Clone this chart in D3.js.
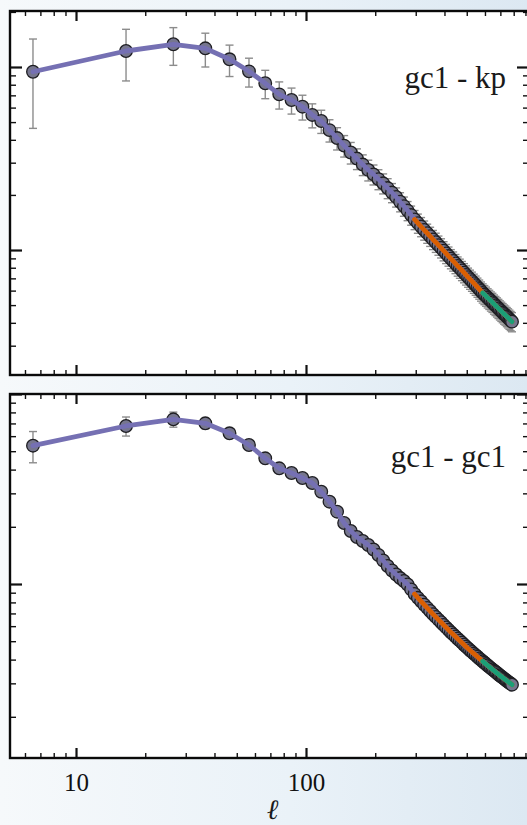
<!DOCTYPE html>
<html><head><meta charset="utf-8">
<script src="https://cdn.jsdelivr.net/npm/d3@7"></script>
<style>
html,body{margin:0;padding:0;width:527px;height:825px;overflow:hidden;
background:linear-gradient(90deg,#f6f9fb 0%,#eaf2f8 55%,#dce8f2 100%);}
svg{display:block}
</style></head><body><svg id="c" width="527" height="825"></svg>
<script>
// multipole bin centres
const ells = [6.5,16.5,26.5,36.5,46.5,56.5,66.5,76.5,86.5,96.5,
 106.5,116.5,126.5,136.5,146.5,156.5,166.5,176.5,186.5,196.5,
 206.5,216.5,226.5,236.5,246.5,256.5,266.5,276.5,286.5,296.5,
 306.5,316.5,326.5,336.5,346.5,356.5,366.5,376.5,386.5,396.5,
 406.5,416.5,426.5,436.5,446.5,456.5,466.5,476.5,486.5,496.5,
 506.5,516.5,526.5,536.5,546.5,556.5,566.5,576.5,586.5,596.5,
 606.5,616.5,626.5,636.5,646.5,656.5,666.5,676.5,686.5,696.5,
 706.5,716.5,726.5,736.5,746.5,756.5,766.5,776.5,786.5];
// gc1 - kp cross spectrum (arbitrary units)
const gcKp = [0.942,1.223,1.331,1.265,1.102,0.947,0.815,0.709,0.660,0.607,
 0.547,0.507,0.452,0.409,0.372,0.341,0.316,0.293,0.274,0.259,
 0.244,0.2315,0.218,0.206,0.195,0.1836,0.1738,0.1643,0.1552,0.1468,
 0.1403,0.1343,0.1286,0.1236,0.1189,0.1142,0.1103,0.1064,0.1028,0.0991,
 0.0958,0.0927,0.0897,0.0871,0.0844,0.0818,0.0796,0.0773,0.0752,0.0731,
 0.0711,0.0693,0.0676,0.0659,0.0643,0.0627,0.0612,0.0597,0.0583,0.0571,
 0.0560,0.0548,0.0538,0.0527,0.0518,0.0507,0.0498,0.0489,0.0480,0.0471,
 0.0463,0.0455,0.0447,0.0441,0.0433,0.0426,0.0419,0.0412,0.0406];
const gcKpErr = [0.48,0.384,0.31,0.265,0.215,0.17,0.144,0.12,0.107,0.094,
 0.082,0.0735,0.063,0.057,0.050,0.046,0.041,0.038,0.0356,0.0324,
 0.0305,0.029,0.0273,0.0247,0.0234,0.022,0.0209,0.0197,0.0186,0.0176,
 0.01684,0.01612,0.01543,0.01483,0.01427,0.0137,0.01324,0.01277,0.01234,0.01189,
 0.0115,0.01112,0.01076,0.01045,0.01013,0.00982,0.00955,0.00928,0.00902,0.00877,
 0.00853,0.00832,0.00811,0.00791,0.00772,0.00752,0.00734,0.00716,0.007,0.00685,
 0.00672,0.00658,0.00646,0.00632,0.00622,0.00608,0.00598,0.00587,0.00576,0.00565,
 0.00556,0.00546,0.00536,0.00529,0.0052,0.00511,0.00503,0.00494,0.00487];
// gc1 - gc1 auto spectrum (arbitrary units)
const gcGc = [5.345,6.786,7.359,7.012,6.212,5.391,4.587,4.063,3.838,3.613,
 3.401,3.060,2.712,2.402,2.095,1.901,1.768,1.684,1.604,1.519,
 1.421,1.330,1.244,1.178,1.122,1.075,1.037,0.994,0.936,0.886,
 0.846,0.811,0.778,0.749,0.721,0.694,0.671,0.649,0.629,0.609,
 0.591,0.574,0.557,0.543,0.529,0.515,0.503,0.491,0.479,0.468,
 0.458,0.448,0.439,0.430,0.422,0.414,0.406,0.3985,0.392,0.385,
 0.379,0.3725,0.366,0.3605,0.355,0.350,0.345,0.340,0.335,0.330,
 0.326,0.3217,0.3174,0.3135,0.3094,0.3057,0.3023,0.2987,0.2951];
const gcGcErr = [1.0,0.78,0.67,0.45,0.32,0.24,0.18,0.14,0.11,0.095,
 0.085,0.075,0.066,0.058,0.05,0.045,0.041,0.038,0.035,0.033,
 0.03,0.028,0.026,0.024,0.023,0.022,0.021,0.02,0.019,0.018,
 0.017,0.016,0.0155,0.015,0.0144,0.0139,0.0134,0.013,0.0126,0.0122,
 0.0118,0.0115,0.0111,0.0109,0.0106,0.0103,0.0101,0.0098,0.0096,0.0094,
 0.0092,0.009,0.0088,0.0086,0.0084,0.0083,0.0081,0.008,0.0078,0.0077,
 0.0076,0.0075,0.0073,0.0072,0.0071,0.007,0.0069,0.0068,0.0067,0.0066,
 0.0065,0.0064,0.0063,0.0063,0.0062,0.0061,0.006,0.006,0.0059];
const panelLabels = ["gc1 - kp", "gc1 - gc1"];
// line segments: ell where each coloured curve starts
const segStarts = [6.5, 296.5, 586.5];
const segColors = ["#7570b3", "#d95f02", "#1b9e77"];
const xDomain = [5.164, 932.4];
const xMajorTicks = [10, 100];
const xMinorTicks = [6,7,8,9,20,30,40,50,60,70,80,90,200,300,400,500,600,700,800,900];
const yDomainTop = [0.02075, 2.023];
const yMajorTop = [0.1, 1];
const yMinorTop = [0.03,0.04,0.05,0.06,0.07,0.08,0.09,0.2,0.3,0.4,0.5,0.6,0.7,0.8,0.9,2];
const yDomainBot = [0.1214, 10];
const yMajorBot = [1, 10];
const yMinorBot = [0.2,0.3,0.4,0.5,0.6,0.7,0.8,0.9,2,3,4,5,6,7,8,9];
const xTitle = "\u2113";

const svg = d3.select("#c");
const L = 10, R = 529;
const x = d3.scaleLog().domain(xDomain).range([L, R]);
const panels = [
  {top: 11, bottom: 375, yd: yDomainTop, maj: yMajorTop, min: yMinorTop, v: gcKp, e: gcKpErr, label: panelLabels[0], ly: 88, xlab: false},
  {top: 394, bottom: 758, yd: yDomainBot, maj: yMajorBot, min: yMinorBot, v: gcGc, e: gcGcErr, label: panelLabels[1], ly: 467, xlab: true}
];
const serif = "'Liberation Serif','Times New Roman','DejaVu Serif',serif";

panels.forEach(p => {
  const y = d3.scaleLog().domain(p.yd).range([p.bottom, p.top]);
  const g = svg.append("g");
  g.append("rect").attr("x", L).attr("y", p.top).attr("width", R - L).attr("height", p.bottom - p.top).attr("fill", "#fff");
  const data = ells.map((l, i) => ({l, v: p.v[i], e: p.e[i]}));
  // error bars
  const eb = g.append("g").attr("stroke", "#8c8c8c").attr("stroke-width", 1.4).attr("fill", "none");
  data.forEach(d => {
    const y1 = y(d.v + d.e), y0 = y(Math.max(d.v - d.e, p.yd[0] * 0.5));
    const cx = x(d.l);
    eb.append("line").attr("x1", cx).attr("x2", cx).attr("y1", y1).attr("y2", y0);
    eb.append("line").attr("x1", cx - 4).attr("x2", cx + 4).attr("y1", y1).attr("y2", y1);
    eb.append("line").attr("x1", cx - 4).attr("x2", cx + 4).attr("y1", y0).attr("y2", y0);
  });
  // points
  g.append("g").selectAll("circle").data(data).join("circle")
    .attr("cx", d => x(d.l)).attr("cy", d => y(d.v)).attr("r", 6.3)
    .attr("fill", "#76768e").attr("stroke", "#1e1e22").attr("stroke-width", 1.3);
  // coloured curves
  const line = d3.line().x(d => x(d.l)).y(d => y(d.v));
  segStarts.forEach((s, k) => {
    g.append("path").datum(data.filter(d => d.l >= s)).attr("d", line)
      .attr("fill", "none").attr("stroke", segColors[k]).attr("stroke-width", 4.8)
      .attr("stroke-linecap", "round").attr("stroke-linejoin", "round");
  });
  // axes (inward ticks on all four sides)
  const mk = (axis, tr, size, vals, fmt) => {
    const a = axis.tickValues(vals).tickSizeInner(size).tickSizeOuter(0).tickFormat(fmt || (() => ""));
    const ag = g.append("g").attr("transform", tr).call(a);
    ag.select(".domain").remove();
    ag.selectAll(".tick line").attr("stroke", "#111");
    return ag;
  };
  const none = () => "";
  const xb = mk(d3.axisBottom(x).tickPadding(15), `translate(0,${p.bottom})`, -10, xMajorTicks, p.xlab ? d3.format("d") : none);
  xb.selectAll(".tick line").attr("stroke-width", 2.2);
  xb.selectAll("text").attr("font-family", serif).attr("font-size", 25).attr("fill", "#111");
  mk(d3.axisBottom(x), `translate(0,${p.bottom})`, -5, xMinorTicks).selectAll(".tick line").attr("stroke-width", 1.4);
  mk(d3.axisTop(x), `translate(0,${p.top})`, -10, xMajorTicks).selectAll(".tick line").attr("stroke-width", 2.2);
  mk(d3.axisTop(x), `translate(0,${p.top})`, -5, xMinorTicks).selectAll(".tick line").attr("stroke-width", 1.4);
  mk(d3.axisLeft(y), `translate(${L},0)`, -12, p.maj).selectAll(".tick line").attr("stroke-width", 2.2);
  mk(d3.axisLeft(y), `translate(${L},0)`, -6, p.min).selectAll(".tick line").attr("stroke-width", 1.4);
  mk(d3.axisRight(y), `translate(${R},0)`, -12, p.maj).selectAll(".tick line").attr("stroke-width", 2.2);
  mk(d3.axisRight(y), `translate(${R},0)`, -6, p.min).selectAll(".tick line").attr("stroke-width", 1.4);
  // frame
  g.append("rect").attr("x", L).attr("y", p.top).attr("width", R - L).attr("height", p.bottom - p.top)
    .attr("fill", "none").attr("stroke", "#0a0a0a").attr("stroke-width", 2.4);
  // label
  g.append("text").attr("x", 506).attr("y", p.ly).attr("text-anchor", "end")
    .attr("font-family", serif).attr("font-size", 31).attr("fill", "#1a1a1a").text(p.label);
});
svg.append("text").attr("x", (L + R) / 2 + 3).attr("y", 819).attr("text-anchor", "middle")
  .attr("font-family", serif).attr("font-style", "italic").attr("font-size", 28).attr("fill", "#1a1a1a").text(xTitle);
</script></body></html>
